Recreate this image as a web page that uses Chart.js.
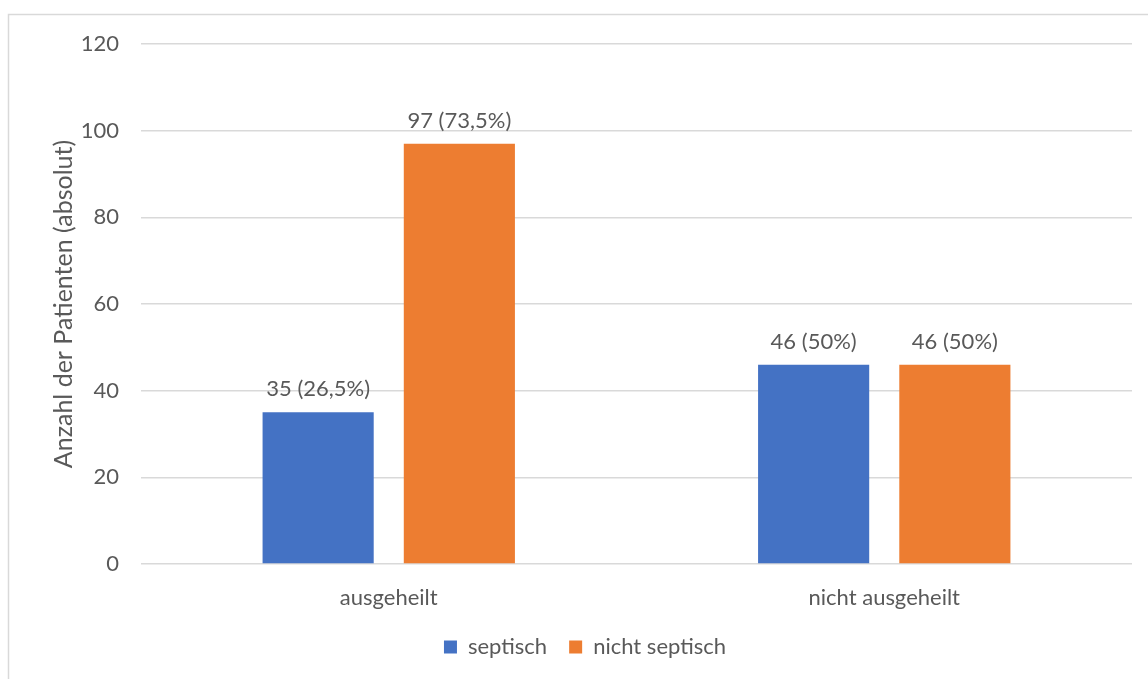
<!doctype html>
<html>
<head>
    <meta charset="utf-8">
    <title>Heilung septisch / nicht septisch</title>
    <script src="https://cdn.jsdelivr.net/npm/chart.js@4/dist/chart.umd.min.js"></script>
    <style>
        html, body { margin: 0; padding: 0; background: #fff; }
        .chart-holder { position: relative; width: 1148px; height: 679px; }
    </style>
</head>
<body>

<div class="chart-holder">
    <canvas id="myChart" width="1148" height="679"></canvas>
</div>

<script>
    // Daten
    var kategorien = ['ausgeheilt', 'nicht ausgeheilt'];
    var septisch = [35, 46];
    var nichtSeptisch = [97, 46];
    var septischProzent = ['26,5%', '50%'];
    var nichtSeptischProzent = ['73,5%', '50%'];
    var yTicks = [0, 20, 40, 60, 80, 100, 120];

    var textFarbe = '#595959';
    var gitterFarbe = '#d9d9d9';
    var schrift = 'Lato, "Open Sans", sans-serif';

    // Rahmen um das Diagramm
    var rahmenPlugin = {
        id: 'rahmen',
        beforeDraw: function (chart) {
            var ctx = chart.ctx;
            ctx.save();
            ctx.fillStyle = '#fff';
            ctx.fillRect(0, 0, chart.width, chart.height);
            ctx.strokeStyle = gitterFarbe;
            ctx.lineWidth = 1.5;
            ctx.strokeRect(8.5, 14.5, 1300, 800);
            ctx.restore();
        }
    };

    // Beschriftung über den Balken: "Wert (Prozent)"
    var wertePlugin = {
        id: 'werte',
        afterDatasetsDraw: function (chart) {
            var ctx = chart.ctx;
            ctx.save();
            ctx.font = '22px ' + schrift;
            ctx.fillStyle = textFarbe;
            ctx.textAlign = 'center';
            ctx.textBaseline = 'alphabetic';
            chart.data.datasets.forEach(function (ds, i) {
                var meta = chart.getDatasetMeta(i);
                meta.data.forEach(function (bar, j) {
                    var text = ds.data[j] + ' (' + ds.prozent[j] + ')';
                    ctx.fillText(text, bar.x, bar.y - 16);
                });
            });
            ctx.restore();
        }
    };

    var ctx = document.getElementById('myChart').getContext('2d');
    var myChart = new Chart(ctx, {
        type: 'bar',
        data: {
            labels: kategorien,
            datasets: [{
                label: 'septisch',
                data: septisch,
                prozent: septischProzent,
                backgroundColor: '#4472c4',
                categoryPercentage: 0.57,
                barPercentage: 0.787
            }, {
                label: 'nicht septisch',
                data: nichtSeptisch,
                prozent: nichtSeptischProzent,
                backgroundColor: '#ed7d31',
                categoryPercentage: 0.57,
                barPercentage: 0.787
            }]
        },
        options: {
            responsive: false,
            animation: false,
            layout: {
                padding: { left: 38, right: 16, top: 44, bottom: 11 }
            },
            plugins: {
                legend: {
                    position: 'bottom',
                    labels: {
                        boxWidth: 13,
                        boxHeight: 13,
                        padding: 22,
                        color: textFarbe,
                        font: { size: 22, family: schrift }
                    }
                },
                tooltip: { enabled: false }
            },
            scales: {
                x: {
                    grid: { display: false, drawTicks: false },
                    border: { display: false },
                    ticks: {
                        color: textFarbe,
                        padding: 21,
                        font: { size: 22, family: schrift }
                    },
                    afterFit: function (scale) { scale.height = 50; }
                },
                y: {
                    min: 0,
                    max: 120,
                    afterBuildTicks: function (scale) {
                        scale.ticks = yTicks.map(function (v) { return { value: v }; });
                    },
                    grid: { color: gitterFarbe, lineWidth: 1.5, drawTicks: false },
                    border: { display: false },
                    ticks: {
                        color: textFarbe,
                        padding: 22,
                        font: { size: 22, family: schrift }
                    },
                    title: {
                        display: true,
                        text: 'Anzahl der Patienten (absolut)',
                        color: textFarbe,
                        padding: { top: 11, bottom: 0 },
                        font: { size: 25, family: schrift }
                    },
                    afterFit: function (scale) { scale.width = 141 - 38; }
                }
            }
        },
        plugins: [rahmenPlugin, wertePlugin]
    });
</script>
</body>
</html>
